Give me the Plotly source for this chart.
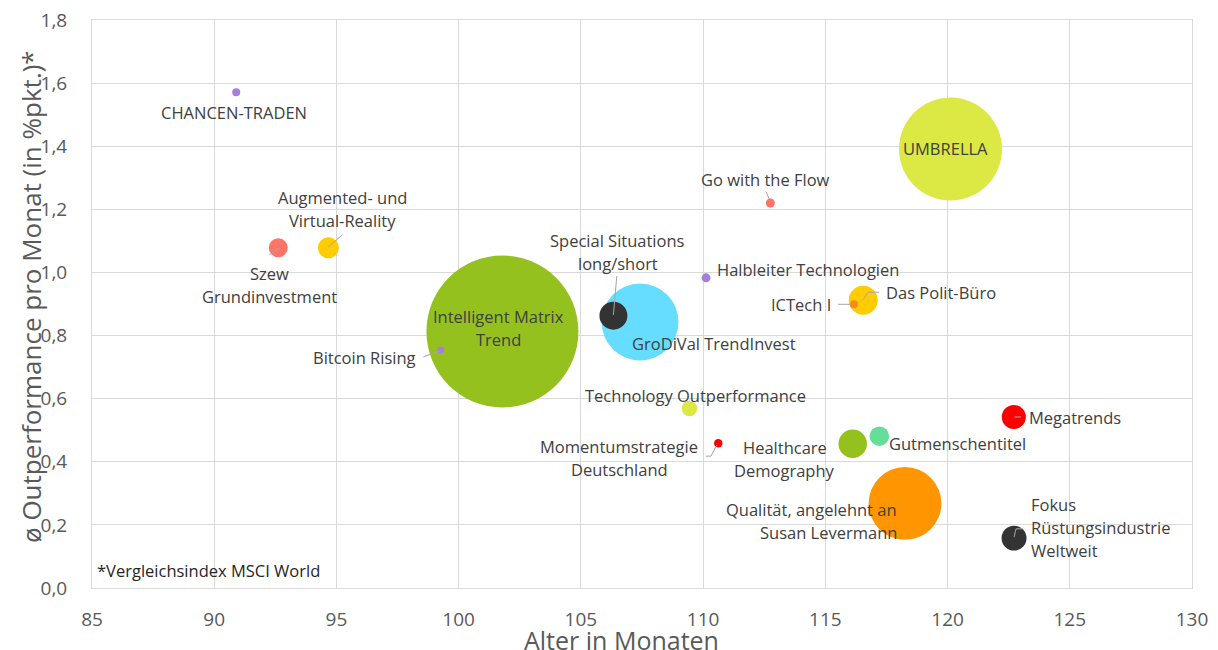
import plotly.graph_objects as go

# ---------------- data ----------------
fonds = [
    "CHANCEN-TRADEN", "Szew Grundinvestment", "Augmented- und Virtual-Reality",
    "Intelligent Matrix Trend", "Bitcoin Rising", "Special Situations long/short",
    "GroDiVal TrendInvest", "Technology Outperformance", "Momentumstrategie Deutschland",
    "Halbleiter Technologien", "Go with the Flow", "UMBRELLA", "ICTech I",
    "Das Polit-Büro", "Healthcare Demography", "Gutmenschentitel", "Megatrends",
    "Qualität, angelehnt an Susan Levermann", "Fokus Rüstungsindustrie Weltweit",
]
alter_monate = [90.90, 92.62, 94.67, 101.79, 99.27, 106.33, 107.42, 109.44, 110.62,
                110.12, 112.75, 120.12, 116.17, 116.55, 116.12, 117.21, 122.71,
                118.26, 122.72]
outperformance = [1.571, 1.078, 1.078, 0.813, 0.754, 0.863, 0.843, 0.569, 0.459,
                  0.983, 1.220, 1.391, 0.899, 0.912, 0.457, 0.481, 0.542,
                  0.268, 0.158]
volumen = [0.64, 3.6, 4.4, 231, 0.49, 7.8, 59, 2.4, 0.72,
           0.81, 0.81, 106, 0.64, 8.4, 8.1, 3.8, 5.8,
           53, 6.2]

x_ticks = [85, 90, 95, 100, 105, 110, 115, 120, 125, 130]
y_ticks = [0.0, 0.2, 0.4, 0.6, 0.8, 1.0, 1.2, 1.4, 1.6, 1.8]
x_title = "Alter in Monaten"
y_title = "ø Outperformance pro Monat (in %pkt.)*"
fussnote = "*Vergleichsindex MSCI World"

# ---------------- styles ----------------
colors = {
    "CHANCEN-TRADEN": "#A67FDA", "Szew Grundinvestment": "#FF7466",
    "Augmented- und Virtual-Reality": "#FFCC00", "Intelligent Matrix Trend": "#95C11F",
    "Bitcoin Rising": "#A67FDA", "Special Situations long/short": "#333333",
    "GroDiVal TrendInvest": "#66DDFF", "Technology Outperformance": "#DCE843",
    "Momentumstrategie Deutschland": "#FF0000", "Halbleiter Technologien": "#A67FDA",
    "Go with the Flow": "#FF7466", "UMBRELLA": "#DCE843", "ICTech I": "#F28C1C",
    "Das Polit-Büro": "#FFCC00", "Healthcare Demography": "#95C11F",
    "Gutmenschentitel": "#66DD99", "Megatrends": "#FF0000",
    "Qualität, angelehnt an Susan Levermann": "#FF9500",
    "Fokus Rüstungsindustrie Weltweit": "#333333",
}

# label layout: lines, anchor, dx, dy of first line (screen px, down positive)
labels = {
    "CHANCEN-TRADEN": (["CHANCEN-TRADEN"], "center", -2.6, 20),
    "Szew Grundinvestment": (["Szew", "Grundinvestment"], "center", -9, 25.6),
    "Augmented- und Virtual-Reality": (["Augmented- und", "Virtual-Reality"], "center", 14.2, -50),
    "Intelligent Matrix Trend": (["Intelligent Matrix", "Trend"], "center", -4.2, -15.2),
    "Bitcoin Rising": (["Bitcoin Rising"], "right", -22.4, 7.3),
    "Special Situations long/short": (["Special Situations", "long/short"], "center", 4.2, -74.7),
    "GroDiVal TrendInvest": (["GroDiVal TrendInvest"], "left", -10, 21.3),
    "Technology Outperformance": (["Technology Outperformance"], "center", 6.2, -13.3),
    "Momentumstrategie Deutschland": (["Momentumstrategie", "Deutschland"], "center", -99.1, 3),
    "Halbleiter Technologien": (["Halbleiter Technologien"], "left", 9, -8.4),
    "Go with the Flow": (["Go with the Flow"], "center", -4.5, -23.7),
    "UMBRELLA": (["UMBRELLA"], "center", -4.5, -0.7),
    "ICTech I": (["ICTech I"], "right", -21.3, 0),
    "Das Polit-Büro": (["Das Polit-Büro"], "left", 20.7, -7.6),
    "Healthcare Demography": (["Healthcare", "Demography"], "center", -68, 3.6),
    "Gutmenschentitel": (["Gutmenschentitel"], "left", 7.4, 7),
    "Megatrends": (["Megatrends"], "left", 13, 0.7),
    "Qualität, angelehnt an Susan Levermann": (["Qualität, angelehnt an", "Susan Levermann"], "right", -6, 6.4),
    "Fokus Rüstungsindustrie Weltweit": (["Fokus", "Rüstungsindustrie", "Weltweit"], "left", 14.7, -34),
}
LINE_GAP = 23

# leader lines (screen px offsets from bubble centre, down positive)
leaders = {
    "Augmented- und Virtual-Reality": [(14, -13), (0, -1)],
    "Szew Grundinvestment": [(-9, 7), (1, 0)],
    "Bitcoin Rising": [(-17.4, 6.7), (-0.7, 1)],
    "Special Situations long/short": [(3.4, -39.7), (0, -0.7)],
    "Momentumstrategie Deutschland": [(-12.6, 13), (-7.3, 13), (-1.6, 2)],
    "Megatrends": [(0.6, 0), (7.3, 0)],
    "Fokus Rüstungsindustrie Weltweit": [(0, -1), (2, -9.3), (8.7, -9.3)],
    "Go with the Flow": [(-4.3, -11.3), (-1, -3.7)],
    "ICTech I": [(-15.7, 0), (-4, 0)],
    "Das Polit-Büro": [(-0.6, 0), (5, -8), (15.7, -8)],
}

FONT = "Open Sans"
LABEL_COLOR = "#404040"
AXIS_COLOR = "#595959"
GRID = "#D9D9D9"

# draw larger bubbles first so smaller ones sit on top
order = sorted(range(len(fonds)), key=lambda i: -volumen[i])

fig = go.Figure()
fig.add_trace(go.Scatter(
    x=[alter_monate[i] for i in order],
    y=[outperformance[i] for i in order],
    mode="markers",
    text=[fonds[i] for i in order],
    hoverinfo="text+x+y",
    marker=dict(
        size=[volumen[i] for i in order],
        sizemode="area",
        sizeref=0.02,
        color=[colors[fonds[i]] for i in order],
        opacity=1,
        line=dict(width=0),
    ),
    showlegend=False,
))

annotations = []
for i, name in enumerate(fonds):
    lines, anchor, dx, dy0 = labels[name]
    for k, line in enumerate(lines):
        annotations.append(dict(
            x=alter_monate[i], y=outperformance[i], xref="x", yref="y",
            text=line, showarrow=False, xanchor=anchor, yanchor="middle",
            xshift=dx, yshift=-(dy0 + k * LINE_GAP),
            font=dict(family=FONT, size=16.5, color=LABEL_COLOR),
        ))

shapes = []
for i, name in enumerate(fonds):
    if name not in leaders:
        continue
    pts = leaders[name]
    path = "M " + " L ".join(f"{px},{-py}" for px, py in pts)
    shapes.append(dict(
        type="path", path=path, xref="x", yref="y",
        xsizemode="pixel", ysizemode="pixel",
        xanchor=alter_monate[i], yanchor=outperformance[i],
        line=dict(color="#A6A6A6", width=1), layer="above",
    ))

# axis titles and footnote
annotations.append(dict(
    x=0.4818, y=-0.0915, xref="paper", yref="paper", text=x_title, showarrow=False,
    xanchor="center", yanchor="middle", font=dict(family=FONT, size=25, color=AXIS_COLOR)))
annotations.append(dict(
    x=-0.0555, y=0.514, xref="paper", yref="paper", text=y_title, showarrow=False,
    textangle=-90, xanchor="center", yanchor="middle",
    font=dict(family=FONT, size=26, color=AXIS_COLOR)))
annotations.append(dict(
    x=0, y=0.030, xref="paper", yref="paper", text=fussnote, showarrow=False,
    xanchor="left", yanchor="middle", xshift=3,
    font=dict(family=FONT, size=16.5, color="#262626")))

fig.update_layout(
    width=1218, height=650,
    autosize=False,
    margin=dict(l=92, r=26, t=20, b=62, pad=0),
    paper_bgcolor="white", plot_bgcolor="white",
    separators=",.",
    font=dict(family=FONT, color=AXIS_COLOR),
    annotations=annotations,
    shapes=shapes,
    xaxis=dict(range=[85, 130], tickvals=x_ticks, showgrid=True, gridcolor=GRID,
               gridwidth=1, zeroline=False, showline=True, linecolor=GRID, mirror=True,
               linewidth=1, ticks="", ticklabelstandoff=14, automargin=False,
               tickfont=dict(family=FONT, size=19, color=AXIS_COLOR)),
    yaxis=dict(range=[0, 1.8], tickvals=y_ticks, tickformat=".1f", showgrid=True,
               gridcolor=GRID, gridwidth=1, zeroline=False, showline=True, linecolor=GRID,
               mirror=True, linewidth=1, ticks="", ticklabelstandoff=20, automargin=False,
               tickfont=dict(family=FONT, size=19, color=AXIS_COLOR)),
)

fig.write_html(
    "out.html",
    config={"displayModeBar": False},
    post_script="document.body.style.margin='0';document.body.style.padding='0';"
                "document.body.style.overflow='hidden';",
)
